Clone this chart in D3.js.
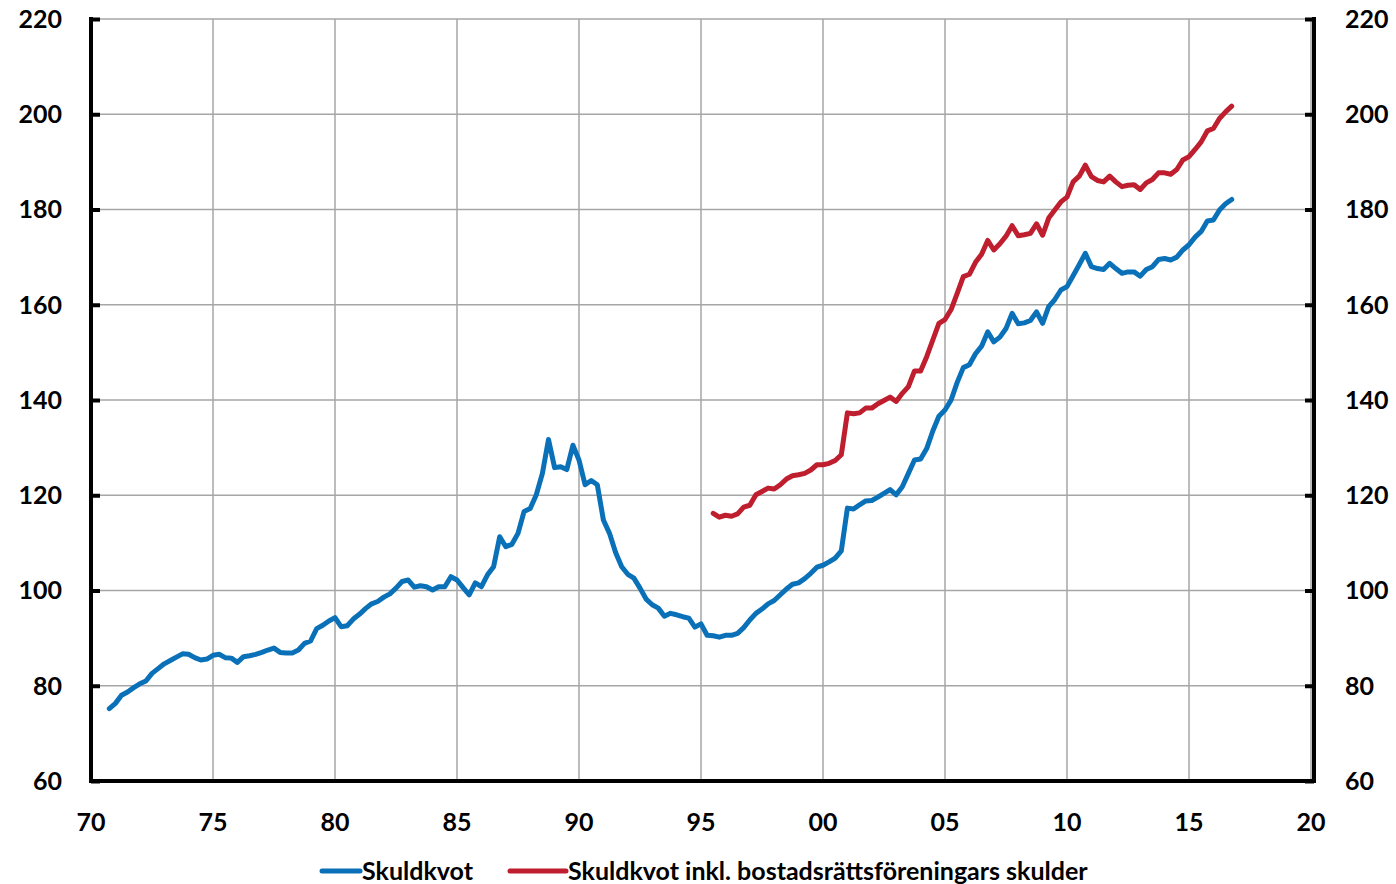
<!DOCTYPE html>
<html>
<head>
<meta charset="utf-8">
<script src="https://cdn.jsdelivr.net/npm/d3@7"></script>
<style>
  body { margin: 0; background: #fff; }
  svg text { font-family: Lato, "Open Sans", sans-serif; font-weight: bold; fill: #000; }
</style>
</head>
<body>
<svg id="chart" width="1396" height="884"></svg>
<script>
// quarterly series, first point = start year
var skuldkvotStart = 1970.75;
var skuldkvot = [
  75.2,
  76.3, 78.0, 78.7, 79.6,   80.4, 81.0, 82.6, 83.6,   84.6, 85.3, 86.0, 86.7,
  86.6, 85.9, 85.4, 85.6,   86.4, 86.6, 85.9, 85.8,   84.9, 86.1, 86.3, 86.6,
  87.0, 87.5, 87.9, 87.0,   86.9, 86.9, 87.5, 88.9,   89.4, 92.0, 92.7, 93.6,
  94.3, 92.4, 92.6, 94.0,   95.0, 96.2, 97.2, 97.7,   98.6, 99.3, 100.5, 101.9,
  102.2, 100.7, 101.0, 100.8, 100.1, 100.8, 100.8, 102.9, 102.2, 100.6, 99.1, 101.6,
  100.8, 103.3, 105.0, 111.3, 109.2, 109.7, 112.0, 116.6, 117.2, 120.1, 124.6, 131.7,
  125.8, 126.0, 125.4, 130.5, 127.4, 122.2, 123.1, 122.2, 114.8, 112.0, 108.0, 105.0,
  103.4, 102.6, 100.5, 98.2, 97.0, 96.3, 94.6, 95.2,   94.9, 94.5, 94.2, 92.3,
  93.0, 90.6, 90.5, 90.2,   90.6, 90.6, 91.0, 92.2,   93.8, 95.2, 96.1, 97.2,
  97.9, 99.1, 100.3, 101.3, 101.6, 102.5, 103.6, 104.9,
  105.3, 106.0, 106.8, 108.3, 117.3, 117.1, 118.0, 118.8, 118.9, 119.6, 120.4, 121.2,
  120.1, 121.8, 124.6, 127.4, 127.6, 129.8, 133.5, 136.6, 137.9, 140.0, 143.7, 146.8,
  147.4, 149.7, 151.3, 154.3, 152.2, 153.2, 155.0, 158.2, 156.0, 156.2, 156.7, 158.5,
  156.1, 159.6, 161.1, 163.1, 163.8, 166.1, 168.4, 170.8, 168.0, 167.6, 167.4, 168.7,
  167.6, 166.6, 166.9, 166.9, 166.0, 167.4, 168.0, 169.5, 169.7, 169.4, 170.0, 171.5,
  172.6, 174.2, 175.4, 177.6, 177.8, 179.9, 181.2, 182.1
];

var inklBrfStart = 1995.5;
var inklBrf = [
  116.2, 115.4,
  115.8, 115.6, 116.1, 117.5, 117.9, 120.1, 120.8, 121.5, 121.3, 122.2, 123.4, 124.1,
  124.3, 124.6, 125.3, 126.4, 126.4, 126.7, 127.3, 128.5, 137.3, 137.1, 137.3, 138.3,
  138.3, 139.2, 139.9, 140.6, 139.7, 141.4, 142.8, 146.1, 146.1, 149.1, 152.6, 156.1,
  156.9, 159.0, 162.4, 165.9, 166.4, 168.9, 170.6, 173.5, 171.5, 172.8, 174.4, 176.6,
  174.5, 174.7, 175.0, 177.0, 174.6, 178.2, 179.9, 181.6, 182.6, 185.8, 187.0, 189.3,
  186.9, 186.1, 185.8, 187.0, 185.8, 184.8, 185.1, 185.2, 184.2, 185.6, 186.3, 187.7,
  187.7, 187.4, 188.4, 190.4, 191.1, 192.6, 194.2, 196.5, 197.0, 199.1, 200.5, 201.7
];

var xTicks = [1970, 1975, 1980, 1985, 1990, 1995, 2000, 2005, 2010, 2015, 2020];
var yTicks = [60, 80, 100, 120, 140, 160, 180, 200, 220];
var seriesNames = ["Skuldkvot", "Skuldkvot inkl. bostadsrättsföreningars skulder"];
var seriesColors = ["#0A71B9", "#BE1E2D"];

var pLeft = 91, pRight = 1311, pTop = 19, pBottom = 781;
var svg = d3.select("#chart");

var x = d3.scaleLinear().domain([1970, 2020]).range([pLeft, pRight]);
var y = d3.scaleLinear().domain([60, 220]).range([pBottom, pTop]);

function toPoints(start, vals) {
  return vals.map(function(v, i) { return { t: start + i * 0.25, v: v }; });
}

// grid
svg.append("g").selectAll("line").data(yTicks.slice(1)).enter().append("line")
  .attr("x1", pLeft).attr("x2", pRight)
  .attr("y1", function(d) { return y(d); }).attr("y2", function(d) { return y(d); })
  .style("stroke", "#A6A6A6").style("stroke-width", 1.5);
svg.append("g").selectAll("line").data(xTicks.slice(1)).enter().append("line")
  .attr("x1", function(d) { return x(d); }).attr("x2", function(d) { return x(d); })
  .attr("y1", pTop).attr("y2", pBottom)
  .style("stroke", "#A6A6A6").style("stroke-width", 1.5);

// axes
var yLeft = d3.axisRight(y).tickValues(yTicks).tickSize(9).tickFormat("");
var gl = svg.append("g").attr("transform", "translate(" + pLeft + ",0)").call(yLeft);
var yRight = d3.axisLeft(y).tickValues(yTicks).tickSize(9).tickFormat("");
var gr = svg.append("g").attr("transform", "translate(" + (pRight + 3) + ",0)").call(yRight);
var xAx = d3.axisTop(x).tickValues(xTicks).tickSize(0).tickFormat("");
var gx = svg.append("g").attr("transform", "translate(0," + pBottom + ")").call(xAx);
[gl, gr, gx].forEach(function(g) {
  g.select(".domain").attr("stroke", "#000").attr("stroke-width", 4);
  g.selectAll(".tick line").attr("stroke", "#000").attr("stroke-width", 4);
});
gl.select(".domain").attr("d", "M0," + (pTop - 2) + "V" + (pBottom + 2));
gr.select(".domain").attr("d", "M0," + (pTop - 2) + "V" + (pBottom + 2));
gx.select(".domain").attr("d", "M" + (pLeft - 2) + ",0H" + (pRight + 5));

// tick labels
svg.append("g").selectAll("text").data(yTicks).enter().append("text")
  .attr("x", 62).attr("y", function(d) { return y(d); }).attr("dy", "0.35em")
  .attr("text-anchor", "end").style("font-size", "25px").text(function(d) { return d; });
svg.append("g").selectAll("text").data(yTicks).enter().append("text")
  .attr("x", 1345).attr("y", function(d) { return y(d); }).attr("dy", "0.35em")
  .attr("text-anchor", "start").style("font-size", "25px").text(function(d) { return d; });
svg.append("g").selectAll("text").data(xTicks).enter().append("text")
  .attr("x", function(d) { return x(d); }).attr("y", 831)
  .attr("text-anchor", "middle").style("font-size", "25px")
  .text(function(d) { return String(d % 100).padStart(2, "0"); });

// lines
var line = d3.line().x(function(d) { return x(d.t); }).y(function(d) { return y(d.v); });
var series = [toPoints(skuldkvotStart, skuldkvot), toPoints(inklBrfStart, inklBrf)];
svg.append("g").selectAll("path").data(series).enter().append("path")
  .attr("d", line)
  .attr("fill", "none")
  .attr("stroke", function(d, i) { return seriesColors[i]; })
  .attr("stroke-width", 5)
  .attr("stroke-linejoin", "round")
  .attr("stroke-linecap", "round");

// legend
var legendX = [322, 510];
var leg = svg.append("g").selectAll("g").data(seriesNames).enter().append("g")
  .attr("transform", function(d, i) { return "translate(" + legendX[i] + ",871)"; });
leg.append("line").attr("x1", 0).attr("x2", function(d, i) { return i ? 56 : 38; })
  .attr("y1", 0).attr("y2", 0)
  .attr("stroke", function(d, i) { return seriesColors[i]; })
  .attr("stroke-width", 5).attr("stroke-linecap", "round");
leg.append("text").attr("x", function(d, i) { return i ? 58 : 40; }).attr("y", 9)
  .style("font-size", "25px").text(function(d) { return d; });
</script>
</body>
</html>
